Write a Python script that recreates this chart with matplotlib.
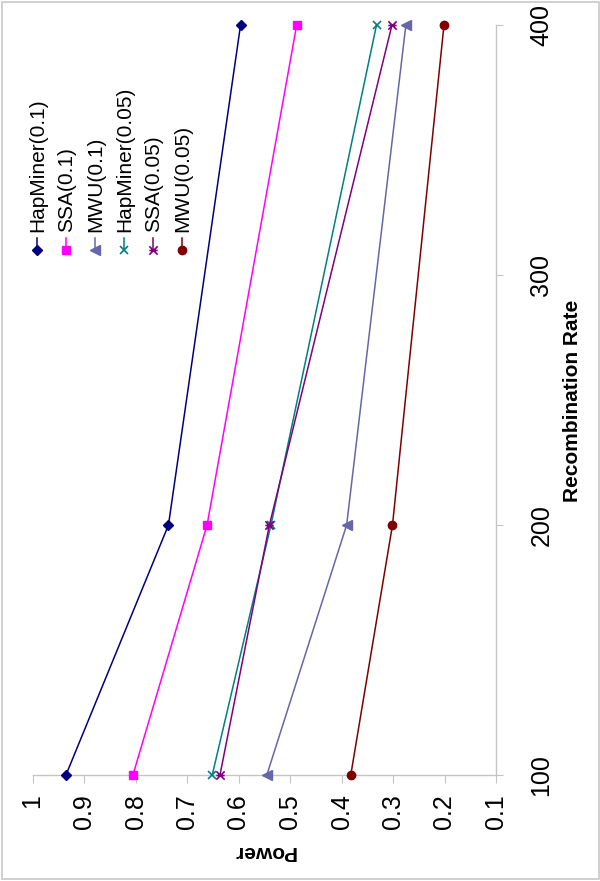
import matplotlib
matplotlib.use("Agg")
import matplotlib.pyplot as plt
from matplotlib.lines import Line2D
from matplotlib.patches import Rectangle
from matplotlib.path import Path

plt.rcParams['font.family'] = ['Liberation Sans', 'DejaVu Sans']

# data (the picture is the chart turned 90 degrees counter-clockwise)
rates = [100, 200, 400]
hapminer_01 = [0.935, 0.736, 0.596]
ssa_01 = [0.805, 0.661, 0.487]
mwu_01 = [0.545, 0.390, 0.275]
hapminer_005 = [0.651, 0.537, 0.332]
ssa_005 = [0.636, 0.540, 0.302]
mwu_005 = [0.382, 0.301, 0.201]

names = ['HapMiner(0.1)', 'SSA(0.1)', 'MWU(0.1)',
         'HapMiner(0.05)', 'SSA(0.05)', 'MWU(0.05)']
power_ticks = [1, 0.9, 0.8, 0.7, 0.6, 0.5, 0.4, 0.3, 0.2, 0.1]
power_labels = ['1', '0.9', '0.8', '0.7', '0.6', '0.5', '0.4', '0.3', '0.2', '0.1']
rate_ticks = [100, 200, 300, 400]

# excel "star" marker, turned with the chart
M, L = Path.MOVETO, Path.LINETO
star = Path([(-1, -1), (1, 1), (-1, 1), (1, -1), (-1, 0), (1, 0)], [M, L, M, L, M, L])

styles = [
    dict(color='#000080', marker='D', ms=5),
    dict(color='#ff00ff', marker='s', ms=5.5),
    dict(color='#6666a8', marker='<', ms=6.5),
    dict(color='#008080', marker='x', ms=5.5, mew=1.2),
    dict(color='#800080', marker=star, ms=6, mew=1.2),
    dict(color='#800000', marker='o', ms=6),
]
series = [hapminer_01, ssa_01, mwu_01, hapminer_005, ssa_005, mwu_005]

W, H = 600, 881
fig = plt.figure(figsize=(W / 100, H / 100), dpi=100)

def fx(px):
    return px / W

def fy(py):
    return 1 - py / H

ax = fig.add_axes([fx(32.5), fy(775), fx(496) - fx(32.5), fy(25) - fy(775)])

for vals, st in zip(series, styles):
    ax.plot(vals, rates, lw=1.1, clip_on=False, zorder=3, **st)

ax.set_xlim(1, 0.1)
ax.set_ylim(100, 400)
ax.set_xticks(power_ticks)
ax.set_xticklabels(power_labels, rotation=90, fontsize=18)
ax.set_yticks(rate_ticks)
ax.yaxis.tick_right()
ax.set_yticklabels([str(r) for r in rate_ticks], rotation=90, fontsize=18, va='center')

gray = '#c4c4c4'
for s in ['top', 'left']:
    ax.spines[s].set_visible(False)
for s in ['right', 'bottom']:
    ax.spines[s].set_color(gray)
    ax.spines[s].set_linewidth(1)
ax.tick_params(axis='x', direction='out', length=5.8, color=gray, pad=8)
ax.tick_params(axis='y', direction='out', length=5, color=gray, pad=19)

fig.text(fx(264), fy(852), 'Power', rotation=180, ha='center', va='center',
         fontsize=15, fontweight='bold')
fig.text(fx(572), fy(401), 'Recombination Rate', rotation=90, ha='center', va='center',
         fontsize=15, fontweight='bold')

# legend, drawn by hand since its text is turned
for i, (name, st) in enumerate(zip(names, styles)):
    x = fx(37.3 + 29 * i)
    fig.add_artist(Line2D([x, x], [fy(238), fy(250)], color=st['color'], lw=1.1))
    fig.add_artist(Line2D([x], [fy(250)], color=st['color'], marker=st['marker'],
                          ms=st['ms'], mew=st.get('mew', 1)))
    fig.text(x, fy(232), name, rotation=90, ha='center', va='bottom', fontsize=15)

fig.add_artist(Rectangle((fx(1.5), fy(878.5)), fx(597), fy(1.5) - fy(878.5),
                         fill=False, edgecolor='#c8c8c8', lw=1.2, transform=fig.transFigure))

fig.savefig('out.png', dpi=100)
